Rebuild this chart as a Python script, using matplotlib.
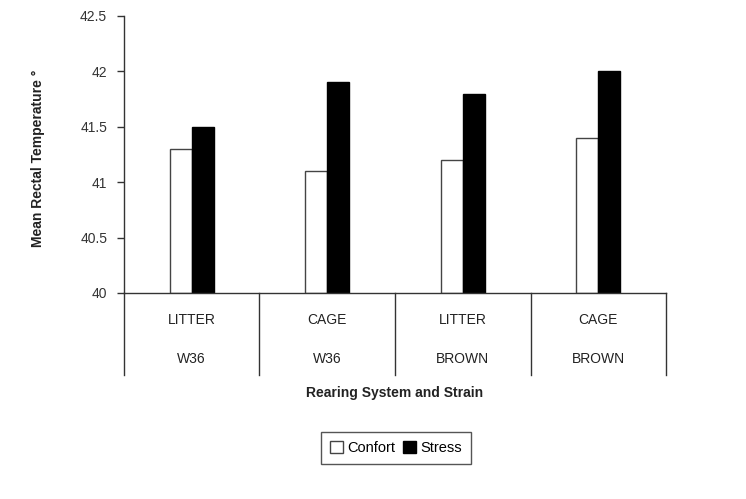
import matplotlib.pyplot as plt
import matplotlib.transforms as mtransforms
import numpy as np

plt.rcParams['font.family'] = ['Liberation Sans', 'DejaVu Sans']

systems = ['LITTER', 'CAGE', 'LITTER', 'CAGE']
strains = ['W36', 'W36', 'BROWN', 'BROWN']
confort = [41.3, 41.1, 41.2, 41.4]
stress = [41.5, 41.9, 41.8, 42.0]
yticks = [40, 40.5, 41, 41.5, 42, 42.5]
ytick_labels = ['40', '40.5', '41', '41.5', '42', '42.5']

fig = plt.figure(figsize=(7.46, 4.99), dpi=100)
ax = fig.add_axes([0.166, 0.413, 0.727, 0.555])

x = np.arange(len(systems))
w = 0.162
base = 40
ax.bar(x - w / 2, np.array(confort) - base, w, bottom=base, color='white',
       edgecolor='#444444', linewidth=1.0, label='Confort')
ax.bar(x + w / 2, np.array(stress) - base, w, bottom=base, color='black',
       edgecolor='black', linewidth=1.0, label='Stress')

ax.set_xlim(-0.5, 3.5)
ax.set_ylim(40, 42.5)
ax.set_yticks(yticks)
ax.set_yticklabels(ytick_labels)
ax.set_xticks([])
ax.tick_params(axis='y', length=5, width=1, colors='#333333', labelsize=10, pad=7)

for s in ['top', 'right']:
    ax.spines[s].set_visible(False)
for s in ['left', 'bottom']:
    ax.spines[s].set_color('#333333')
    ax.spines[s].set_linewidth(1)

# category box below the axis
trans = mtransforms.blended_transform_factory(ax.transData, ax.transAxes)
for xd in np.arange(-0.5, 4.0, 1.0):
    ax.plot([xd, xd], [0, -0.296], transform=trans, color='#333333',
            linewidth=1, clip_on=False)
for i in range(len(systems)):
    ax.text(i, -0.0975, systems[i], transform=trans, ha='center', va='center',
            fontsize=10, color='#222222')
    ax.text(i, -0.238, strains[i], transform=trans, ha='center', va='center',
            fontsize=10, color='#222222')

ax.text(1.5, -0.361, 'Rearing System and Strain', transform=trans, ha='center',
        va='center', fontsize=10, fontweight='bold', color='#222222')

ax.set_ylabel('Mean Rectal Temperature °', fontsize=10, fontweight='bold',
              color='#222222')
ax.yaxis.set_label_coords(-0.146, 0.487)

leg = fig.legend(loc='center', bbox_to_anchor=(0.531, 0.102), ncol=2,
                 handlelength=0.9, handleheight=0.9, columnspacing=0.5,
                 handletextpad=0.3, fancybox=False, edgecolor='#555555',
                 framealpha=1, fontsize=10.5, borderpad=0.6)
leg.get_frame().set_linewidth(1)

plt.savefig('out.png', dpi=100)
plt.close()
